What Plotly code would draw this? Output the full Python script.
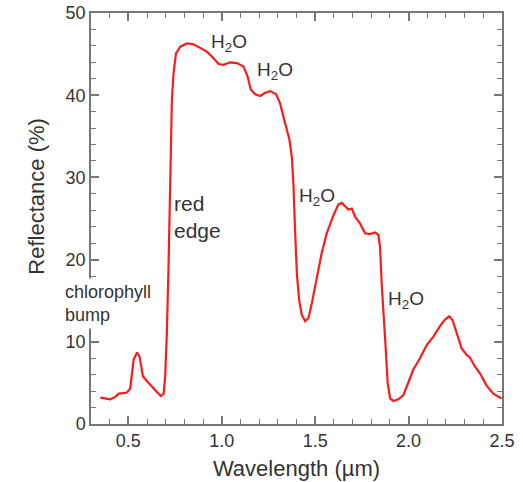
import plotly.graph_objects as go

wavelength = [0.35, 0.403, 0.43, 0.448, 0.49, 0.51, 0.528, 0.546, 0.56, 0.578, 0.60, 0.626, 0.653, 0.674,
              0.689, 0.697, 0.706, 0.715, 0.724, 0.733, 0.742, 0.755, 0.778, 0.813, 0.849, 0.885, 0.92,
              0.947, 0.983, 1.009, 1.045, 1.081, 1.116, 1.138, 1.155, 1.179, 1.206, 1.232, 1.259, 1.291,
              1.312, 1.339, 1.362, 1.375, 1.384, 1.393, 1.402, 1.414, 1.428, 1.446, 1.464, 1.482, 1.509,
              1.535, 1.562, 1.598, 1.624, 1.642, 1.66, 1.678, 1.696, 1.714, 1.74, 1.767, 1.794, 1.821,
              1.838, 1.847, 1.856, 1.865, 1.878, 1.888, 1.901, 1.919, 1.945, 1.972, 1.99, 2.025, 2.061,
              2.097, 2.132, 2.168, 2.195, 2.218, 2.236, 2.257, 2.284, 2.311, 2.328, 2.355, 2.381, 2.417,
              2.453, 2.498]
reflectance = [3.2, 3.0, 3.3, 3.7, 3.8, 4.3, 7.8, 8.7, 8.2, 5.8, 5.2, 4.5, 3.9, 3.4,
               3.7, 5.8, 11.0, 19.2, 31.3, 39.4, 42.7, 45.1, 45.9, 46.3, 46.2, 45.7, 45.3,
               44.7, 43.8, 43.7, 44.0, 43.9, 43.5, 42.3, 40.7, 40.1, 39.9, 40.3, 40.5, 40.1,
               39.0, 36.6, 34.6, 32.5, 28.9, 23.2, 18.3, 15.1, 13.3, 12.5, 12.9, 14.7, 17.9,
               20.8, 23.2, 25.4, 26.7, 26.9, 26.5, 26.1, 26.2, 25.2, 24.4, 23.2, 23.1, 23.3,
               23.0, 21.6, 17.1, 13.1, 9.0, 5.0, 3.1, 2.8, 3.0, 3.5, 4.5, 6.6, 8.0,
               9.6, 10.6, 11.9, 12.7, 13.1, 12.6, 11.0, 9.2, 8.4, 8.1, 7.0, 6.2, 4.7,
               3.7, 3.1]

x_ticks = [0.5, 1.0, 1.5, 2.0, 2.5]
x_tick_labels = ["0.5", "1.0", "1.5", "2.0", "2.5"]
y_ticks = [0, 10, 20, 30, 40, 50]

h2o_x = [0.933, 1.179, 1.403, 1.88]
h2o_y = [46.4, 43.0, 27.6, 15.1]

FONT = "Arial, Liberation Sans, sans-serif"
AXIS_COLOR = "#777777"
TEXT_COLOR = "#333333"

fig = go.Figure()
fig.add_trace(go.Scatter(x=wavelength, y=reflectance, mode="lines",
                         line=dict(color="#ff1a1a", width=2.2), showlegend=False))

annotations = []
for hx, hy in zip(h2o_x, h2o_y):
    annotations.append(dict(x=hx, y=hy, xref="x", yref="y", text="H<sub>2</sub>O",
                            showarrow=False, xanchor="left", yanchor="middle",
                            font=dict(family=FONT, size=19, color=TEXT_COLOR)))
annotations.append(dict(x=0.735, y=25.2, xref="x", yref="y", text="red<br>edge",
                        showarrow=False, xanchor="left", yanchor="middle", align="left",
                        font=dict(family=FONT, size=21, color=TEXT_COLOR)))
annotations.append(dict(x=-0.072, y=14.6, xref="paper", yref="y", text="chlorophyll<br>bump",
                        showarrow=False, xanchor="left", yanchor="middle", align="left",
                        bgcolor="white", borderpad=3,
                        font=dict(family=FONT, size=18, color=TEXT_COLOR)))
annotations.append(dict(x=-0.132, y=0.555, xref="paper", yref="paper", text="Reflectance (%)",
                        showarrow=False, textangle=-90, xanchor="center", yanchor="middle",
                        font=dict(family=FONT, size=22, color=TEXT_COLOR)))

fig.update_layout(
    width=523, height=482,
    margin=dict(l=91, r=21, t=13, b=58, autoexpand=False),
    paper_bgcolor="white", plot_bgcolor="white",
    annotations=annotations,
    font=dict(family=FONT, color=TEXT_COLOR),
)
fig.update_xaxes(
    range=[0.3, 2.5], tickvals=x_ticks, ticktext=x_tick_labels, automargin=False,
    showgrid=False, zeroline=False, showline=True, linecolor=AXIS_COLOR, linewidth=1.5,
    mirror="ticks", ticks="inside", ticklen=8, tickcolor=AXIS_COLOR, tickwidth=1.5,
    minor=dict(ticks="inside", dtick=0.1, tick0=0.3, ticklen=5, tickcolor=AXIS_COLOR, tickwidth=1.2),
    tickfont=dict(family=FONT, size=18, color=TEXT_COLOR),
    title=dict(text="Wavelength (µm)", font=dict(family=FONT, size=22, color=TEXT_COLOR), standoff=10),
)
fig.update_yaxes(
    range=[0, 50], tickvals=y_ticks, automargin=False,
    showgrid=False, zeroline=False, showline=True, linecolor=AXIS_COLOR, linewidth=1.5,
    mirror="ticks", ticks="inside", ticklen=8, tickcolor=AXIS_COLOR, tickwidth=1.5,
    minor=dict(ticks="inside", dtick=2, ticklen=5, tickcolor=AXIS_COLOR, tickwidth=1.2),
    tickfont=dict(family=FONT, size=18, color=TEXT_COLOR),
)

fig.write_html("out.html")
